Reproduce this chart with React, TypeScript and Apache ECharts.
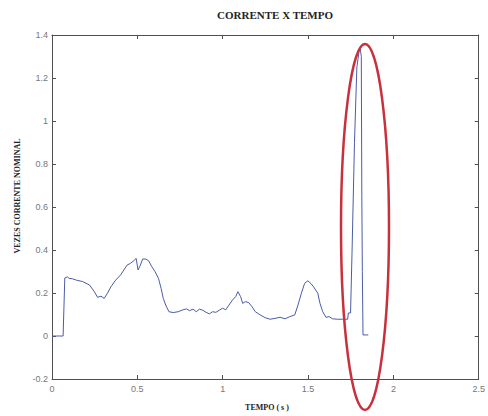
import React, { useEffect, useRef } from "react";
import * as echarts from "echarts";

const TITLE = "CORRENTE X TEMPO";
const X_NAME = "TEMPO ( s )";
const Y_NAME = "VEZES CORRENTE NOMINAL";

const TIME = [
  0, 0.065, 0.075, 0.09, 0.1, 0.12, 0.142, 0.18, 0.22, 0.248, 0.267, 0.287, 0.306, 0.325, 0.345,
  0.373, 0.402, 0.421, 0.44, 0.46, 0.479, 0.493, 0.504, 0.518, 0.531, 0.55, 0.566, 0.585, 0.604,
  0.624, 0.639, 0.652, 0.666, 0.685, 0.71, 0.739, 0.768, 0.787, 0.806, 0.826, 0.845, 0.864, 0.883,
  0.903, 0.922, 0.941, 0.96, 0.98, 0.999, 1.018, 1.037, 1.057, 1.076, 1.089, 1.105, 1.117, 1.134,
  1.153, 1.172, 1.191, 1.22, 1.249, 1.278, 1.307, 1.336, 1.365, 1.393, 1.422, 1.441, 1.461, 1.48,
  1.499, 1.518, 1.532, 1.557, 1.57, 1.586, 1.605, 1.624, 1.644, 1.672, 1.701, 1.732, 1.736, 1.749,
  1.758, 1.772, 1.786, 1.8, 1.806, 1.812, 1.815, 1.818, 1.822, 1.853,
];

const CURRENT = [
  0, 0, 0.27, 0.275, 0.268, 0.266, 0.26, 0.253, 0.237, 0.206, 0.18, 0.185, 0.175, 0.199, 0.229,
  0.26, 0.284, 0.307, 0.33, 0.338, 0.35, 0.361, 0.307, 0.33, 0.358, 0.358, 0.35, 0.322, 0.299,
  0.268, 0.222, 0.175, 0.144, 0.113, 0.109, 0.113, 0.122, 0.126, 0.118, 0.125, 0.113, 0.125, 0.12,
  0.11, 0.103, 0.113, 0.11, 0.12, 0.129, 0.122, 0.144, 0.167, 0.183, 0.206, 0.183, 0.152, 0.16,
  0.155, 0.136, 0.113, 0.098, 0.085, 0.078, 0.082, 0.087, 0.08, 0.09, 0.098, 0.144, 0.199, 0.245,
  0.257, 0.243, 0.229, 0.199, 0.152, 0.113, 0.087, 0.09, 0.08, 0.078, 0.078, 0.078, 0.107, 0.107,
  0.4, 0.9, 1.25, 1.33, 1.335, 1.3, 0.65, 0.3, 0.005, 0.005,
];

const X_MIN = 0;
const X_MAX = 2.5;
const X_STEP = 0.5;
const Y_MIN = -0.2;
const Y_MAX = 1.4;
const Y_STEP = 0.2;

const fmt = (v: number) => String(+v.toFixed(1));

export default function App() {
  const ref = useRef<HTMLDivElement>(null);

  useEffect(() => {
    if (!ref.current) return;
    const chart = echarts.init(ref.current, null, { renderer: "svg" });
    const axisLine = { show: true, onZero: false, lineStyle: { color: "#505050", width: 1 } };
    const tickIn = { show: true, inside: true, length: 4, lineStyle: { color: "#505050" } };
    const labelStyle = {
      color: "#777",
      fontSize: 9,
      fontFamily: "Liberation Sans, Arial, sans-serif",
    };
    const data = TIME.map((t, i) => [t, CURRENT[i]]);
    chart.setOption({
      animation: false,
      backgroundColor: "#fff",
      grid: { left: 52, right: 3, top: 35, bottom: 37, containLabel: false },
      xAxis: [
        {
          type: "value",
          min: X_MIN,
          max: X_MAX,
          interval: X_STEP,
          position: "bottom",
          axisLine,
          axisTick: tickIn,
          splitLine: { show: false },
          axisLabel: { ...labelStyle, margin: 5, formatter: fmt, showMaxLabel: true, showMinLabel: true },
        },
        {
          type: "value",
          min: X_MIN,
          max: X_MAX,
          interval: X_STEP,
          position: "top",
          axisLine,
          axisTick: tickIn,
          splitLine: { show: false },
          axisLabel: { show: false },
        },
      ],
      yAxis: [
        {
          type: "value",
          min: Y_MIN,
          max: Y_MAX,
          interval: Y_STEP,
          position: "left",
          axisLine,
          axisTick: tickIn,
          splitLine: { show: false },
          axisLabel: { ...labelStyle, margin: 4, formatter: fmt, showMaxLabel: true, showMinLabel: true },
        },
        {
          type: "value",
          min: Y_MIN,
          max: Y_MAX,
          interval: Y_STEP,
          position: "right",
          axisLine,
          axisTick: tickIn,
          splitLine: { show: false },
          axisLabel: { show: false },
        },
      ],
      series: [
        {
          type: "line",
          xAxisIndex: 0,
          yAxisIndex: 0,
          data,
          showSymbol: false,
          symbol: "none",
          lineStyle: { color: "#4a5ca8", width: 1 },
          z: 3,
        },
      ],
      graphic: [
        {
          type: "text",
          x: 275,
          y: 15,
          style: {
            text: TITLE,
            fill: "#222",
            font: "bold 11px 'Liberation Serif', 'Times New Roman', serif",
            textAlign: "center",
            textVerticalAlign: "middle",
          },
        },
        {
          type: "text",
          x: 267,
          y: 407,
          style: {
            text: X_NAME,
            fill: "#222",
            font: "bold 8px 'Liberation Serif', 'Times New Roman', serif",
            textAlign: "center",
            textVerticalAlign: "middle",
          },
        },
        {
          type: "text",
          x: 17,
          y: 196,
          rotation: Math.PI / 2,
          style: {
            text: Y_NAME,
            fill: "#222",
            font: "bold 8px 'Liberation Serif', 'Times New Roman', serif",
            textAlign: "center",
            textVerticalAlign: "middle",
          },
        },
        {
          type: "ellipse",
          shape: { cx: 365, cy: 227, rx: 24, ry: 183 },
          style: { fill: "none", stroke: "#c8303c", lineWidth: 2.5 },
          z: 10,
        },
      ],
    });
    return () => chart.dispose();
  }, []);

  return (
    <div
      ref={ref}
      style={{ position: "fixed", left: 0, top: 0, width: 488, height: 416, background: "#fff" }}
    />
  );
}
